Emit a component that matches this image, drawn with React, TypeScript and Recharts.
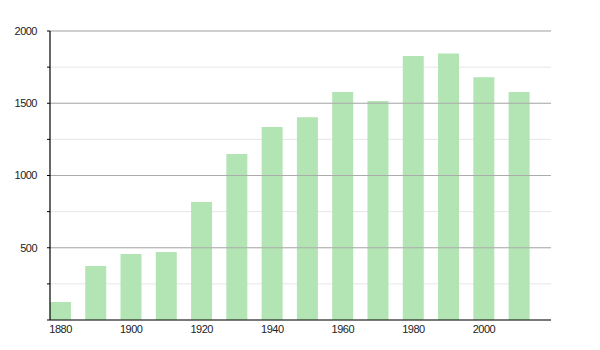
import React from 'react';
import { BarChart, Bar, XAxis, YAxis, CartesianGrid, ReferenceLine } from 'recharts';

const years = [1880, 1890, 1900, 1910, 1920, 1930, 1940, 1950, 1960, 1970, 1980, 1990, 2000, 2010];
const population = [125, 374, 457, 471, 817, 1149, 1336, 1403, 1578, 1516, 1827, 1845, 1680, 1578];
const xTicks = [1880, 1900, 1920, 1940, 1960, 1980, 2000];
const yTicks = [0, 250, 500, 750, 1000, 1250, 1500, 1750, 2000];
const majorTicks = [500, 1000, 1500, 2000];

const data = years.map((year, i) => ({ year, population: population[i] }));

const font = '"Liberation Sans", Arial, sans-serif';
const tickStyle = { fontSize: 11, fill: '#222', fontFamily: font, letterSpacing: -0.5 };

const App: React.FC = () => {
  return (
    <div style={{ position: 'absolute', left: 0, top: 0, background: '#fff' }}>
      <BarChart
        width={600}
        height={350}
        data={data}
        margin={{ top: 31, right: 49, left: 0, bottom: 0 }}
      >
        <CartesianGrid vertical={false} stroke="#e6e6e6" />
        {majorTicks.map((v) => (
          <ReferenceLine key={v} y={v} stroke="#ababab" />
        ))}
        <XAxis
          dataKey="year"
          type="number"
          domain={[1877, 2019]}
          ticks={xTicks}
          allowDataOverflow
          height={30}
          tickLine={false}
          tickSize={0}
          tickMargin={5}
          axisLine={{ stroke: '#000', strokeWidth: 1.2 }}
          tick={tickStyle}
        />
        <YAxis
          type="number"
          domain={[0, 2000]}
          ticks={yTicks}
          width={50}
          tickSize={3}
          tickMargin={10}
          tickLine={{ stroke: '#000' }}
          axisLine={{ stroke: '#000', strokeWidth: 1.2 }}
          tickFormatter={(v: number) => (v !== 0 && v % 500 === 0 ? String(v) : '')}
          tick={tickStyle}
        />
        <Bar dataKey="population" fill="#b2e5b3" barSize={21} isAnimationActive={false} />
      </BarChart>
    </div>
  );
};

export default App;
